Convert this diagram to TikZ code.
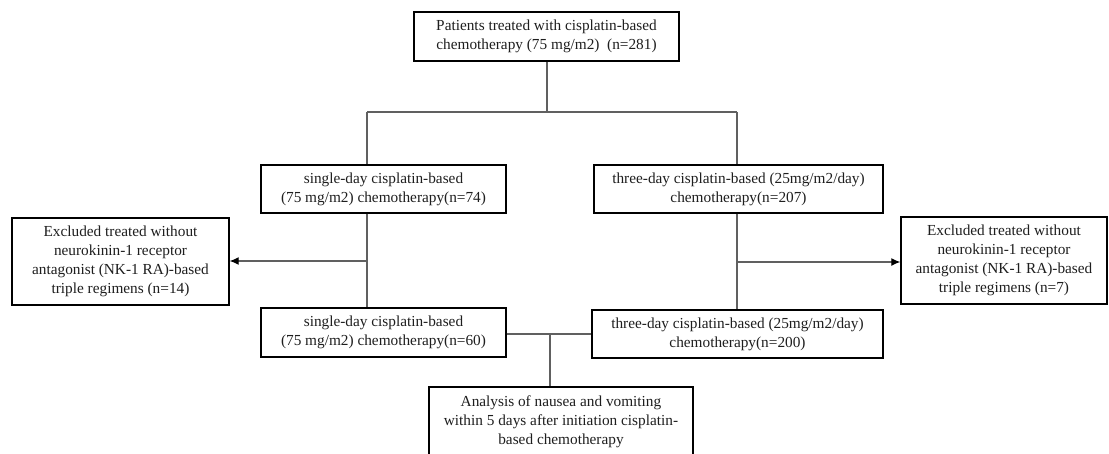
\documentclass[tikz,border=0pt]{standalone}
\usepackage{fontspec}
\setmainfont{Liberation Serif}
\usetikzlibrary{arrows.meta}
\definecolor{lineg}{HTML}{606060}
\definecolor{txt}{HTML}{1e1e1e}
\begin{document}
\begin{tikzpicture}[x=1pt,y=-1pt,
  box/.style={draw=black,line width=1.4pt,inner sep=0pt,align=center,
    text=txt,font=\fontsize{15.3}{19}\selectfont},
  conn/.style={draw=lineg,line width=1.1pt},
  arr/.style={conn,-{Latex[length=9pt,width=8pt,black]}}]
\useasboundingbox (0,0) rectangle (1109,453);
\fill[white] (0,0) rectangle (1109,453);
\node[box,minimum width=265,minimum height=49] (top) at (546.5,36.5)
  {Patients treated with cisplatin-based\\chemotherapy (75 mg/m2)~~(n=281)};
\node[box,minimum width=245,minimum height=48] (A) at (383.5,189)
  {single-day cisplatin-based\\(75 mg/m2) chemotherapy(n=74)};
\node[box,minimum width=289,minimum height=48] (B) at (738.5,189)
  {three-day cisplatin-based (25mg/m2/day)\\chemotherapy(n=207)};
\node[box,minimum width=217,minimum height=87] (LX) at (120.5,261.5)
  {Excluded treated without\\neurokinin-1 receptor\\antagonist (NK-1 RA)-based\\triple regimens (n=14)};
\node[box,minimum width=206,minimum height=87] (RX) at (1004,260.5)
  {Excluded treated without\\neurokinin-1 receptor\\antagonist (NK-1 RA)-based\\triple regimens (n=7)};
\node[box,minimum width=245,minimum height=49] (C) at (383.5,332.5)
  {single-day cisplatin-based\\(75 mg/m2) chemotherapy(n=60)};
\node[box,minimum width=291,minimum height=48] (D) at (737.5,334)
  {three-day cisplatin-based (25mg/m2/day)\\chemotherapy(n=200)};
\node[box,minimum width=264,minimum height=70] (E) at (561,422)
  {Analysis of nausea and vomiting\\within 5 days after initiation cisplatin-\\based chemotherapy};
\coordinate (j1) at (547,112);
\coordinate (jl) at (367,112);
\coordinate (jr) at (737,112);
\coordinate (ja) at (367,261);
\coordinate (jb) at (737,262);
\coordinate (jm) at (550,334);
\draw[conn] (top.south -| j1) -- (j1);
\draw[conn] (jl) -- (jr);
\draw[conn] (jl) -- (jl |- A.north);
\draw[conn] (jr) -- (jr |- B.north);
\draw[conn] (A.south -| jl) -- (C.north -| jl);
\draw[arr] (ja) -- (LX.east |- ja);
\draw[conn] (B.south -| jr) -- (D.north -| jr);
\draw[arr] (jb) -- (RX.west |- jb);
\draw[conn] (C.east |- jm) -- (D.west |- jm);
\draw[conn] (jm) -- (E.north -| jm);
\end{tikzpicture}
\end{document}
